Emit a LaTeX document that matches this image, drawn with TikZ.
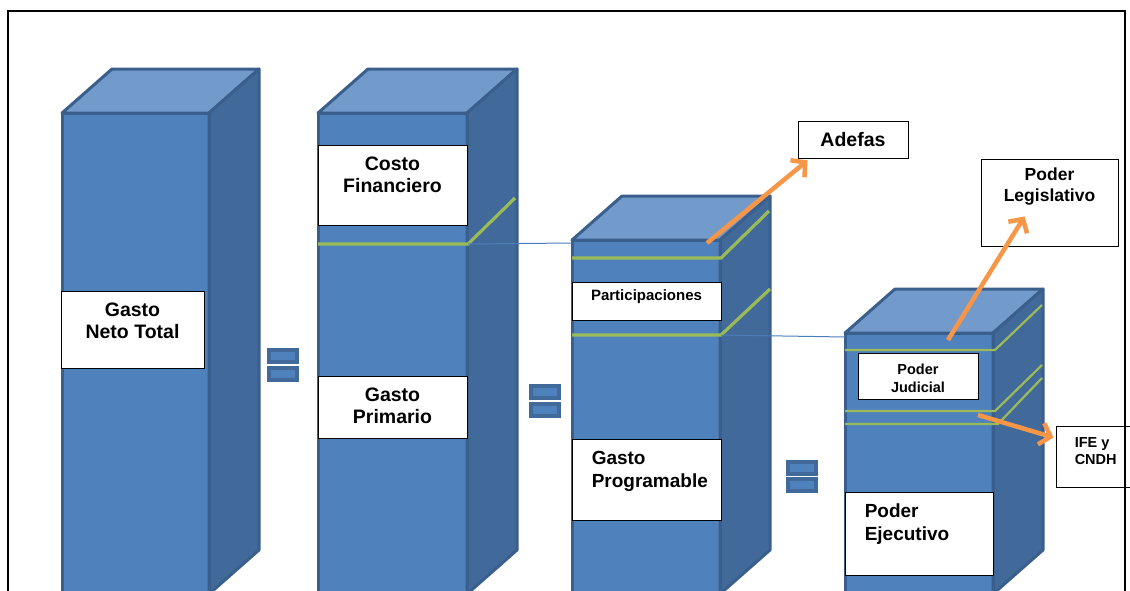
\documentclass[tikz,border=0pt]{standalone}
\usepackage{fontspec}
\setmainfont{Liberation Sans}
\usetikzlibrary{arrows.meta}
\definecolor{frontc}{HTML}{4F81BD}
\definecolor{topc}{HTML}{729ACA}
\definecolor{sidec}{HTML}{41699A}
\definecolor{edgec}{HTML}{3A5F8C}
\definecolor{grnc}{HTML}{9BBB59}
\definecolor{orgc}{HTML}{F79646}
\definecolor{lnkc}{HTML}{4A7EBB}
\newcommand\prismcol[3]{%
  \fill[frontc] (#1,#2) rectangle ({#1+#3},600);
  \filldraw[fill=topc, draw=edgec, line width=3pt, line join=round] (#1,#2) -- ({#1+50},{#2-44}) -- ({#1+#3+50},{#2-44}) -- ({#1+#3},#2) -- cycle;
  \filldraw[fill=sidec, draw=edgec, line width=3pt, line join=round] ({#1+#3},#2) -- ({#1+#3+50},{#2-44}) -- ({#1+#3+50},550) -- ({#1+#3},594) -- cycle;
  \draw[edgec, line width=3pt, line join=round] (#1,600) -- (#1,#2) -- ({#1+#3},#2) -- ({#1+#3},600);
}
\tikzset{
  box/.style={draw=black, fill=white, line width=0.9pt, inner sep=0pt},
  lbl/.style={inner sep=0pt, align=center, font=\fontsize{19.5}{22}\selectfont\bfseries},
  lbll/.style={inner sep=0pt, align=left, font=\fontsize{19}{23}\selectfont\bfseries},
  slbl/.style={inner sep=0pt, align=center, font=\fontsize{15}{18}\selectfont\bfseries},
  greenline/.style={grnc, line width=3.2pt},
  greenthin/.style={grnc, line width=2.2pt},
  link/.style={lnkc, line width=1pt},
  arr/.style={orgc, line width=4.5pt, -{Straight Barb[length=10pt,width=22pt]}},
  eqbar/.style={draw=sidec, fill=frontc, line width=4pt, minimum width=28pt, minimum height=12pt, inner sep=0pt},
}
\begin{document}
\begin{tikzpicture}[x=1pt,y=-1pt]
\useasboundingbox (0,0) rectangle (1130,590);
\clip (0,0) rectangle (1130,590);
% prisms
\prismcol{62}{113}{147}
\prismcol{318}{113}{149}
\prismcol{572}{240}{148}
\prismcol{845}{333}{148}
% green cut lines
\draw[greenline] (318,244) -- (468,244) coordinate (g2r) -- (515,198);
\draw[greenline] (572,258) -- (721,258) -- (769,211);
\draw[greenline] (572,335) -- (721,335) coordinate (g3r) -- (770,289);
\draw[greenthin] (845,350) -- (995,350) -- (1042,305);
\draw[greenthin] (845,411) -- (995,411) -- (1042,365);
\draw[greenthin] (845,424) -- (998,424) -- (1042,378);
% thin blue links
\coordinate (c3l) at (572,243);
\coordinate (c4l) at (845,337);
\draw[link] (g2r) -- (c3l);
\draw[link] (g3r) -- (c4l);
% equals signs
\node[eqbar] (eq1a) at (283,356) {};
\node[eqbar] (eq1b) at (283,374) {};
\node[eqbar] (eq2a) at (544.5,392) {};
\node[eqbar] (eq2b) at (544.5,409.5) {};
\node[eqbar] (eq3a) at (801.5,468) {};
\node[eqbar] (eq3b) at (801.5,485) {};
% boxes
\node[box, minimum width=143pt, minimum height=77pt, label={[lbl, yshift=8.5pt]center:{Gasto\\Neto Total}}] (gnt) at (132.5,329.5) {};
\node[box, minimum width=149pt, minimum height=80pt, label={[lbl, yshift=10pt]center:{Costo\\Financiero}}] (costo) at (392.5,185) {};
\node[box, minimum width=149pt, minimum height=62pt, label={[lbl, yshift=1pt]center:{Gasto\\Primario}}] (gprim) at (392.5,407) {};
\node[box, minimum width=149pt, minimum height=38pt, label={[slbl, yshift=4pt]center:{Participaciones}}] (partic) at (646.5,301) {};
\node[box, minimum width=149pt, minimum height=81pt, label={[lbll, anchor=west, xshift=20pt, yshift=8pt]west:{Gasto\\Programable}}] (gprog) at (646.5,479.5) {};
\node[box, minimum width=120pt, minimum height=46pt, label={[slbl, font=\fontsize{14.5}{18}\selectfont\bfseries, yshift=-1.5pt]center:{Poder\\Judicial}}] (pj) at (918,376.5) {};
\node[box, minimum width=148pt, minimum height=83pt, label={[lbll, anchor=west, xshift=20pt, yshift=9pt]west:{Poder\\Ejecutivo}}] (pe) at (919,533.5) {};
\node[box, minimum width=110pt, minimum height=37pt, label={[lbl]center:{Adefas}}] (adefas) at (853,139.5) {};
\node[box, minimum width=137pt, minimum height=87pt, label={[lbl, font=\fontsize{17.5}{21}\selectfont\bfseries, yshift=16pt]center:{Poder\\Legislativo}}] (leg) at (1049.5,202.5) {};
\node[box, minimum width=79pt, minimum height=61pt, label={[slbl, align=left, font=\fontsize{14.5}{17}\selectfont\bfseries, anchor=west, xshift=19pt, yshift=5pt]west:{IFE y\\CNDH}}] (ife) at (1095.5,456.5) {};
% orange arrows
\coordinate (a1) at (707,243);
\coordinate (a2) at (948,340);
\coordinate (a3) at (978,415);
\draw[arr] (a1) -- ([shift={(10,2)}]adefas.south west);
\draw[arr] (a2) -- ([shift={(44,-30)}]leg.south west);
\draw[arr] (a3) -- ([shift={(-2,-19)}]ife.west);
% frame
\draw[black, line width=2.5pt] (8,600) -- (8,11) -- (1125,11) -- (1125,600);
\end{tikzpicture}
\end{document}
